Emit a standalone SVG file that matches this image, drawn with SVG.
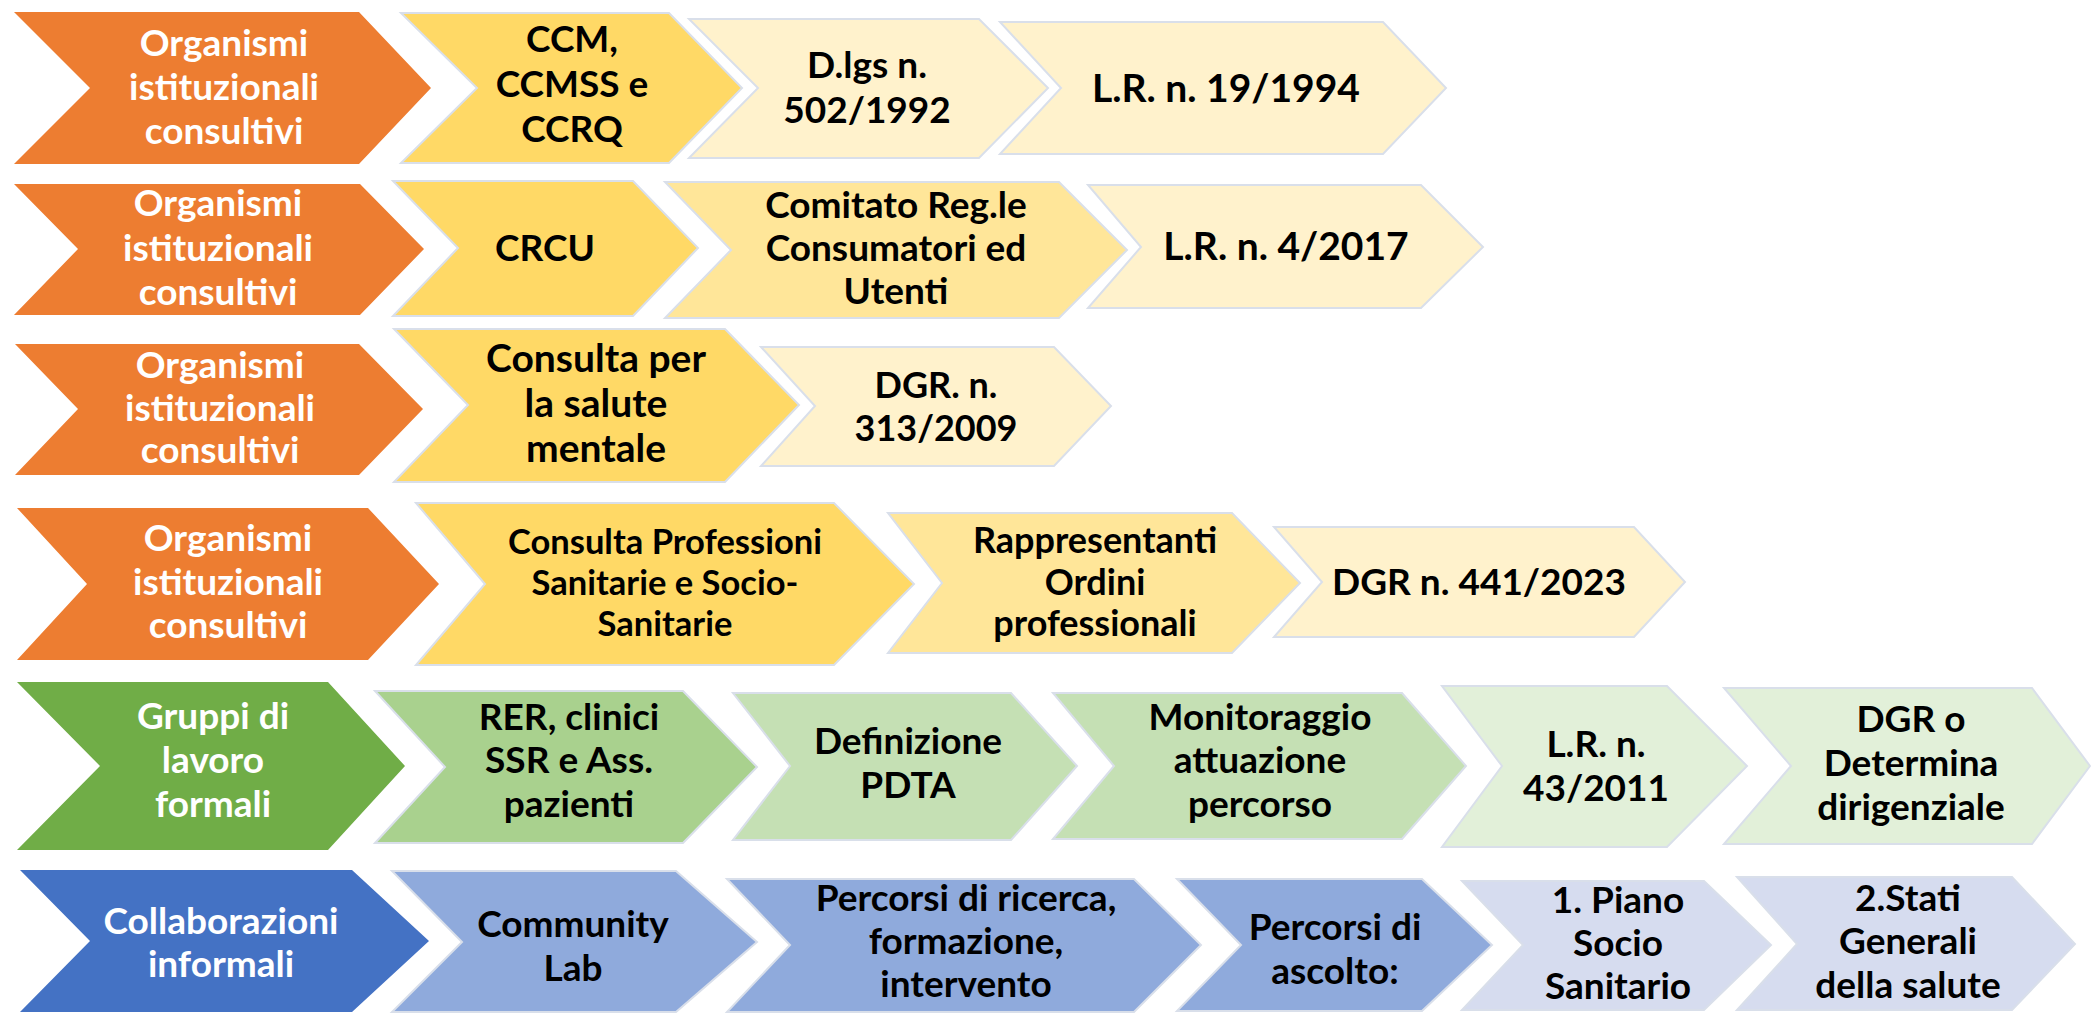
<svg xmlns="http://www.w3.org/2000/svg" width="2091" height="1015" viewBox="0 0 2091 1015">
<style>
text{font-family:"Lato","Noto Sans","Liberation Sans",sans-serif;font-weight:700;font-size:37px;text-anchor:middle}
.w{fill:#ffffff}
.k{fill:#000000}
.big{font-size:39px}
.sm{font-size:34.5px}
.md{font-size:36px}
.sec{stroke:#d9dfea;stroke-width:2}
.or{fill:#ED7D31}.gr{fill:#70AD47}.bl{fill:#4472C4}
.y1{fill:#FFD966}.y2{fill:#FFE699}.y3{fill:#FFF2CC}
.g1{fill:#A9D18E}.g2{fill:#C5E0B4}.g3{fill:#E2F0D9}
.b1{fill:#8FAADC}.b2{fill:#D6DCEF}
</style>
<rect width="2091" height="1015" fill="#ffffff"/>

<!-- Row 1 -->
<g id="r1-head"><polygon class="or" points="14,12 359,12 431,88 359,164 14,164 90,88"/>
<text class="w" x="224" y="56">Organismi</text><text class="w" x="224" y="100">istituzionali</text><text class="w" x="224" y="144">consultivi</text></g>
<g id="r1-ccm"><polygon class="y1 sec" points="401,13 669,13 742,88 669,163 401,163 477,88"/>
<text class="k" x="572" y="52">CCM,</text><text class="k" x="572" y="97">CCMSS e</text><text class="k" x="572" y="142">CCRQ</text></g>
<g id="r1-dlgs"><polygon class="y3 sec" points="689,19 979,19 1048,88 979,158 689,158 758,88"/>
<text class="k" x="867" y="78">D.lgs n.</text><text class="k" x="867" y="123">502/1992</text></g>
<g id="r1-lr"><polygon class="y3 sec" points="1000,22 1383,22 1446,88 1383,154 1000,154 1061,88"/>
<text class="k big" x="1226" y="102">L.R. n. 19/1994</text></g>

<!-- Row 2 -->
<g id="r2-head"><polygon class="or" points="14,184 360,184 424,249 360,315 14,315 78,249"/>
<text class="w" x="218" y="216">Organismi</text><text class="w" x="218" y="261">istituzionali</text><text class="w" x="218" y="305">consultivi</text></g>
<g id="r2-crcu"><polygon class="y1 sec" points="393,181 633,181 698,248 633,316 393,316 458,248"/>
<text class="k" x="545" y="261">CRCU</text></g>
<g id="r2-comitato"><polygon class="y2 sec" points="665,182 1059,182 1127,250 1059,318 665,318 731,250"/>
<text class="k" x="896" y="218">Comitato Reg.le</text><text class="k" x="896" y="261">Consumatori ed</text><text class="k" x="896" y="304">Utenti</text></g>
<g id="r2-lr"><polygon class="y3 sec" points="1088,185 1421,185 1483,247 1421,308 1088,308 1141,247"/>
<text class="k big" x="1286" y="260">L.R. n. 4/2017</text></g>

<!-- Row 3 -->
<g id="r3-head"><polygon class="or" points="15,344 359,344 423,409 359,475 15,475 78,409"/>
<text class="w" x="220" y="378">Organismi</text><text class="w" x="220" y="421">istituzionali</text><text class="w" x="220" y="463">consultivi</text></g>
<g id="r3-consulta"><polygon class="y1 sec" points="394,329 725,329 799,405 725,482 394,482 468,405"/>
<text class="k big" x="596" y="372">Consulta per</text><text class="k big" x="596" y="417">la salute</text><text class="k big" x="596" y="462">mentale</text></g>
<g id="r3-dgr"><polygon class="y3 sec" points="761,347 1054,347 1111,406 1054,466 761,466 815,406"/>
<text class="k md" x="936" y="398">DGR. n.</text><text class="k md" x="936" y="441">313/2009</text></g>

<!-- Row 4 -->
<g id="r4-head"><polygon class="or" points="17,508 368,508 439,584 368,660 17,660 87,584"/>
<text class="w" x="228" y="551">Organismi</text><text class="w" x="228" y="595">istituzionali</text><text class="w" x="228" y="638">consultivi</text></g>
<g id="r4-consulta"><polygon class="y1 sec" points="416,503 834,503 914,584 834,665 416,665 485,584"/>
<text class="k sm" x="665" y="554">Consulta Professioni</text><text class="k sm" x="665" y="595">Sanitarie e Socio-</text><text class="k sm" x="665" y="636">Sanitarie</text></g>
<g id="r4-rappr"><polygon class="y2 sec" points="888,513 1232,513 1300,583 1232,653 888,653 942,583"/>
<text class="k md" x="1095" y="553">Rappresentanti</text><text class="k md" x="1095" y="595">Ordini</text><text class="k md" x="1095" y="636">professionali</text></g>
<g id="r4-dgr"><polygon class="y3 sec" points="1274,527 1634,527 1685,582 1634,637 1274,637 1322,582"/>
<text class="k" x="1479" y="595">DGR n. 441/2023</text></g>

<!-- Row 5 -->
<g id="r5-head"><polygon class="gr" points="17,682 328,682 405,766 328,850 17,850 100,766"/>
<text class="w" x="213" y="729">Gruppi di</text><text class="w" x="213" y="773">lavoro</text><text class="w" x="213" y="817">formali</text></g>
<g id="r5-rer"><polygon class="g1 sec" points="375,691 683,691 757,767 683,843 375,843 445,767"/>
<text class="k" x="569" y="730">RER, clinici</text><text class="k" x="569" y="773">SSR e Ass.</text><text class="k" x="569" y="817">pazienti</text></g>
<g id="r5-def"><polygon class="g2 sec" points="733,693 1011,693 1077,766 1011,840 733,840 790,766"/>
<text class="k" x="908" y="754">Definizione</text><text class="k" x="908" y="798">PDTA</text></g>
<g id="r5-mon"><polygon class="g2 sec" points="1053,693 1402,693 1466,766 1402,839 1053,839 1114,766"/>
<text class="k" x="1260" y="730">Monitoraggio</text><text class="k" x="1260" y="773">attuazione</text><text class="k" x="1260" y="817">percorso</text></g>
<g id="r5-lr"><polygon class="g3 sec" points="1442,686 1667,686 1747,766 1667,847 1442,847 1502,766"/>
<text class="k" x="1596" y="757">L.R. n.</text><text class="k" x="1596" y="801">43/2011</text></g>
<g id="r5-dgr"><polygon class="g3 sec" points="1724,688 2032,688 2090,766 2032,844 1724,844 1791,766"/>
<text class="k" x="1911" y="732">DGR o</text><text class="k" x="1911" y="776">Determina</text><text class="k" x="1911" y="820">dirigenziale</text></g>

<!-- Row 6 -->
<g id="r6-head"><polygon class="bl" points="20,870 352,870 429,941 352,1012 20,1012 90,941"/>
<text class="w" x="221" y="934">Collaborazioni</text><text class="w" x="221" y="977">informali</text></g>
<g id="r6-community"><polygon class="b1 sec" points="392,871 676,871 757,942 676,1012 392,1012 462,942"/>
<text class="k" x="573" y="937">Community</text><text class="k" x="573" y="981">Lab</text></g>
<g id="r6-ricerca"><polygon class="b1 sec" points="727,879 1134,879 1201,945 1134,1012 727,1012 790,945"/>
<text class="k" x="966" y="911">Percorsi di ricerca,</text><text class="k" x="966" y="954">formazione,</text><text class="k" x="966" y="997">intervento</text></g>
<g id="r6-ascolto"><polygon class="b1 sec" points="1177,879 1422,879 1492,945 1422,1011 1177,1011 1241,945"/>
<text class="k" x="1335" y="940">Percorsi di</text><text class="k" x="1335" y="984">ascolto:</text></g>
<g id="r6-piano"><polygon class="b2 sec" points="1462,881 1704,881 1771,945 1704,1010 1462,1010 1523,945"/>
<text class="k" x="1618" y="913">1. Piano</text><text class="k" x="1618" y="956">Socio</text><text class="k" x="1618" y="999">Sanitario</text></g>
<g id="r6-stati"><polygon class="b2 sec" points="1737,877 2012,877 2075,944 2012,1010 1737,1010 1797,944"/>
<text class="k" x="1908" y="911">2.Stati</text><text class="k" x="1908" y="954">Generali</text><text class="k" x="1908" y="998">della salute</text></g>
</svg>
